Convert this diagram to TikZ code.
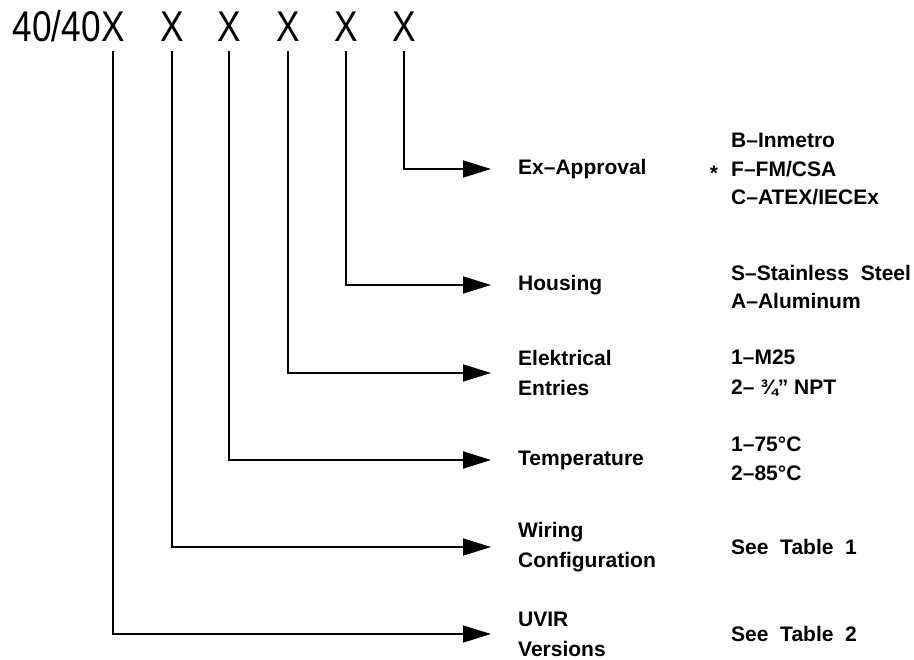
\documentclass[tikz,border=0pt]{standalone}
\usepackage{fontspec}
\setmainfont{Liberation Sans}
\newfontfamily\titlefont[FakeStretch=0.82]{Liberation Sans}
\usetikzlibrary{arrows.meta}
\begin{document}
\begin{tikzpicture}[x=1pt,y=-1pt,
  ttl/.style={font=\titlefont\fontsize{43}{43}\selectfont, inner sep=0pt, anchor=base},
  lab/.style={font=\bfseries\fontsize{21}{30}\selectfont, align=left, anchor=west, inner sep=0pt},
  opt/.style={font=\bfseries\fontsize{21}{28.5}\selectfont, align=left, anchor=west, inner sep=0pt},
  conn/.style={line width=1.7pt, -{Triangle[length=28pt,width=17pt]}, shorten <=9pt}]
\useasboundingbox (0,0) rectangle (914,660);
% title
\node[ttl] (x1) at (113,42) {X};
\node[ttl] (x2) at (172,42) {X};
\node[ttl] (x3) at (229,42) {X};
\node[ttl] (x4) at (288,42) {X};
\node[ttl] (x5) at (346,42) {X};
\node[ttl] (x6) at (404,42) {X};
\node[ttl, anchor=base east] (pre) at (x1.base west) {40/40};
% labels
\node[lab] (lab1) at (518,169) {Ex–Approval};
\node[lab] (lab2) at (518,285) {Housing};
\node[lab] (lab3) at (518,373) {Elektrical\\Entries};
\node[lab] (lab4) at (518,460) {Temperature};
\node[lab] (lab5) at (518,547) {Wiring\\Configuration};
\node[lab] (lab6) at (518,634) {UVIR\\Versions};
% options
\node[opt] (o1) at (731,169) {B–Inmetro\\F–FM/CSA\\C–ATEX/IECEx};
\node[font=\bfseries\fontsize{21}{21}\selectfont, inner sep=0pt, anchor=base] (star) at (714,181) {*};
\node[opt] (o2) at (731,287) {S–Stainless\ \ Steel\\A–Aluminum};
\node[lab] (o3) at (731,373) {1–M25\\2–\ ¾" NPT};
\node[opt] (o4) at (731,459) {1–75°C\\2–85°C};
\node[opt] (o5) at (731,547) {See\ \ Table\ \ 1};
\node[opt] (o6) at (731,634) {See\ \ Table\ \ 2};
% connectors
\draw[conn] (x6.south) |- ([xshift=-27pt]lab1.west);
\draw[conn] (x5.south) |- ([xshift=-27pt]lab2.west);
\draw[conn] (x4.south) |- ([xshift=-27pt]lab3.west);
\draw[conn] (x3.south) |- ([xshift=-27pt]lab4.west);
\draw[conn] (x2.south) |- ([xshift=-27pt]lab5.west);
\draw[conn] (x1.south) |- ([xshift=-27pt]lab6.west);
\end{tikzpicture}
\end{document}
